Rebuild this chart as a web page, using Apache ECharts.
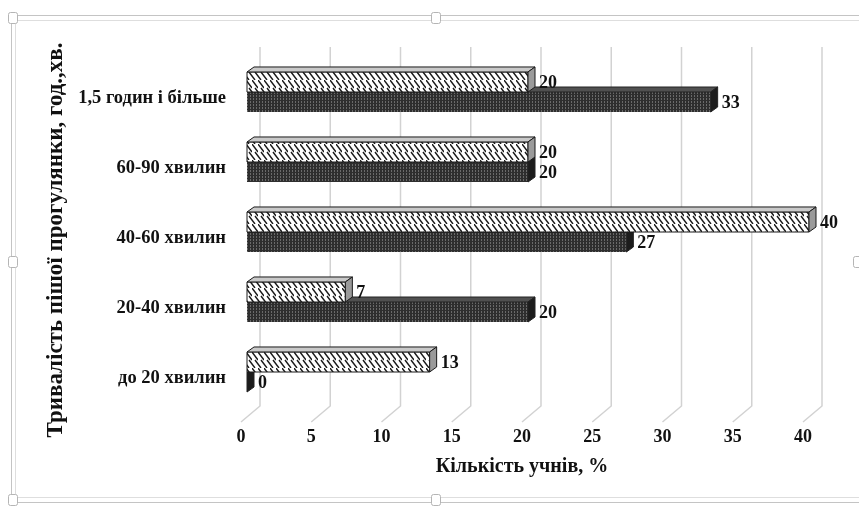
<!DOCTYPE html>
<html>
<head>
    <meta charset="utf-8">
    <title>Тривалість пішої прогулянки</title>
    <script src="https://cdn.jsdelivr.net/npm/echarts@6/dist/echarts.min.js"></script>
    <style>
        html, body { margin: 0; padding: 0; background: #fff; }
    </style>
</head>
<body>
<div id="main" style="width: 859px;height:506px;"></div>
<script type="text/javascript">
    // data
    var categories = ['до 20 хвилин', '20-40 хвилин', '40-60 хвилин', '60-90 хвилин', '1,5 годин і більше'];
    var hatchValues = [13, 7, 40, 20, 20];
    var darkValues = [0, 20, 27, 20, 33];
    var xTicks = [0, 5, 10, 15, 20, 25, 30, 35, 40];

    var fontFamily = "'Liberation Serif', 'Times New Roman', serif";

    // pattern tiles
    function makeHatch() {
        var c = document.createElement('canvas');
        c.width = 6; c.height = 16;
        var ctx = c.getContext('2d');
        ctx.fillStyle = '#fff';
        ctx.fillRect(0, 0, 6, 16);
        ctx.strokeStyle = '#1a1a1a';
        ctx.lineWidth = 1.4;
        ctx.beginPath();
        ctx.moveTo(0, 0); ctx.lineTo(6, 8);
        ctx.moveTo(3, 8); ctx.lineTo(9, 16);
        ctx.moveTo(-3, 8); ctx.lineTo(3, 16);
        ctx.stroke();
        return c;
    }
    function makeDark() {
        var c = document.createElement('canvas');
        c.width = 3; c.height = 3;
        var ctx = c.getContext('2d');
        ctx.fillStyle = '#2e2e2e';
        ctx.fillRect(0, 0, 3, 3);
        ctx.fillStyle = '#6a6a6a';
        ctx.fillRect(1, 0, 1, 1);
        ctx.fillRect(1, 2, 1, 1);
        return c;
    }
    var hatchFill = {image: makeHatch(), repeat: 'repeat'};
    var darkFill = {image: makeDark(), repeat: 'repeat'};

    var depthX = 7, depthY = 5;

    function barRenderer(upper) {
        return function (params, api) {
            var val = api.value(0);
            var cat = api.value(1);
            var p0 = api.coord([0, cat]);
            var p1 = api.coord([val, cat]);
            var band = api.size([0, 1])[1];
            var h = band * 0.286;
            var yTop = upper ? p0[1] - h : p0[1];
            var x0 = p0[0], x1 = p1[0];
            var front = upper ? hatchFill : darkFill;
            var topCol = upper ? '#c9c9c9' : '#505050';
            var sideCol = upper ? '#9a9a9a' : '#1c1c1c';
            var edge = upper ? '#1a1a1a' : '#222';
            return {
                type: 'group',
                children: [
                    {
                        type: 'rect',
                        shape: {x: x0, y: yTop, width: x1 - x0, height: h},
                        style: {fill: front, stroke: edge, lineWidth: upper ? 1 : 0}
                    },
                    {
                        type: 'polygon',
                        shape: {points: [[x0, yTop], [x1, yTop], [x1 + depthX, yTop - depthY], [x0 + depthX, yTop - depthY]]},
                        style: {fill: topCol, stroke: edge, lineWidth: 1}
                    },
                    {
                        type: 'polygon',
                        shape: {points: [[x1, yTop], [x1 + depthX, yTop - depthY], [x1 + depthX, yTop + h - depthY], [x1, yTop + h]]},
                        style: {fill: sideCol, stroke: edge, lineWidth: 1}
                    },
                    {
                        type: 'text',
                        style: {
                            x: x1 + depthX + 4,
                            y: yTop + h / 2 + 1,
                            text: String(val),
                            fill: '#111',
                            font: 'bold 18px ' + fontFamily,
                            verticalAlign: 'middle',
                            align: 'left'
                        }
                    }
                ]
            };
        };
    }

    // back wall grid lines with floor slant
    function gridRenderer(params, api) {
        var cs = params.coordSys;
        var x = api.coord([api.value(0), 0])[0];
        var bottom = cs.y + cs.height;
        return {
            type: 'polyline',
            shape: {points: [[x + 13, cs.y - 10], [x + 13, bottom - 1], [x - 6, bottom + 15]]},
            style: {stroke: '#d2d2d2', lineWidth: 1.5, fill: null}
        };
    }

    var hatchData = hatchValues.map(function (v, i) { return [v, i]; });
    var darkData = darkValues.map(function (v, i) { return [v, i]; });
    var tickData = xTicks.map(function (v) { return [v, 0]; });

    function handle(cx, cy) {
        return {
            type: 'rect',
            shape: {x: cx - 4.5, y: cy - 5.5, width: 9, height: 11, r: 2},
            style: {fill: '#fff', stroke: '#b5b5b5', lineWidth: 1},
            z: 10
        };
    }

    var myChart = echarts.init(document.getElementById('main'));

    var option = {
        backgroundColor: '#fff',
        animation: false,
        grid: {left: 247, top: 57, width: 562, height: 350},
        xAxis: {
            type: 'value',
            min: 0,
            max: 40,
            interval: 5,
            name: 'Кількість учнів, %',
            nameLocation: 'middle',
            nameGap: 50,
            nameTextStyle: {fontFamily: fontFamily, fontWeight: 'bold', fontSize: 20, color: '#111', padding: [0, 12, 0, 0]},
            axisLine: {show: false},
            axisTick: {show: false},
            splitLine: {show: false},
            axisLabel: {
                margin: 21,
                fontFamily: fontFamily,
                fontWeight: 'bold',
                fontSize: 18,
                color: '#111',
                padding: [0, 12, 0, 0]
            }
        },
        yAxis: {
            type: 'category',
            data: categories,
            name: 'Тривалість пішої прогулянки, год.,хв.',
            nameLocation: 'middle',
            nameRotate: 90,
            nameGap: 173,
            nameTextStyle: {fontFamily: fontFamily, fontWeight: 'bold', fontSize: 23, color: '#111', padding: [0, 16, 0, 0]},
            axisLine: {show: false},
            axisTick: {show: false},
            splitLine: {show: false},
            axisLabel: {
                margin: 21,
                fontFamily: fontFamily,
                fontWeight: 'bold',
                fontSize: 18.5,
                color: '#111',
                verticalAlign: 'top',
                lineHeight: 12
            }
        },
        graphic: [
            {
                type: 'rect',
                shape: {x: 11.5, y: 15.5, width: 860, height: 487},
                style: {fill: null, stroke: '#c4c4c4', lineWidth: 1},
                z: 9
            },
            {
                type: 'rect',
                shape: {x: 15.5, y: 20.5, width: 852, height: 477},
                style: {fill: null, stroke: '#dedede', lineWidth: 1},
                z: 9
            },
            handle(13, 18), handle(436, 18), handle(13, 262), handle(858, 262),
            handle(13, 500), handle(436, 500)
        ],
        series: [
            {
                name: 'grid',
                type: 'custom',
                renderItem: gridRenderer,
                data: tickData,
                silent: true,
                z: 1
            },
            {
                name: 'dark',
                type: 'custom',
                renderItem: barRenderer(false),
                encode: {x: 0, y: 1},
                data: darkData,
                z: 2
            },
            {
                name: 'hatch',
                type: 'custom',
                renderItem: barRenderer(true),
                encode: {x: 0, y: 1},
                data: hatchData,
                z: 3
            }
        ]
    };

    myChart.setOption(option);
</script>
</body>
</html>
